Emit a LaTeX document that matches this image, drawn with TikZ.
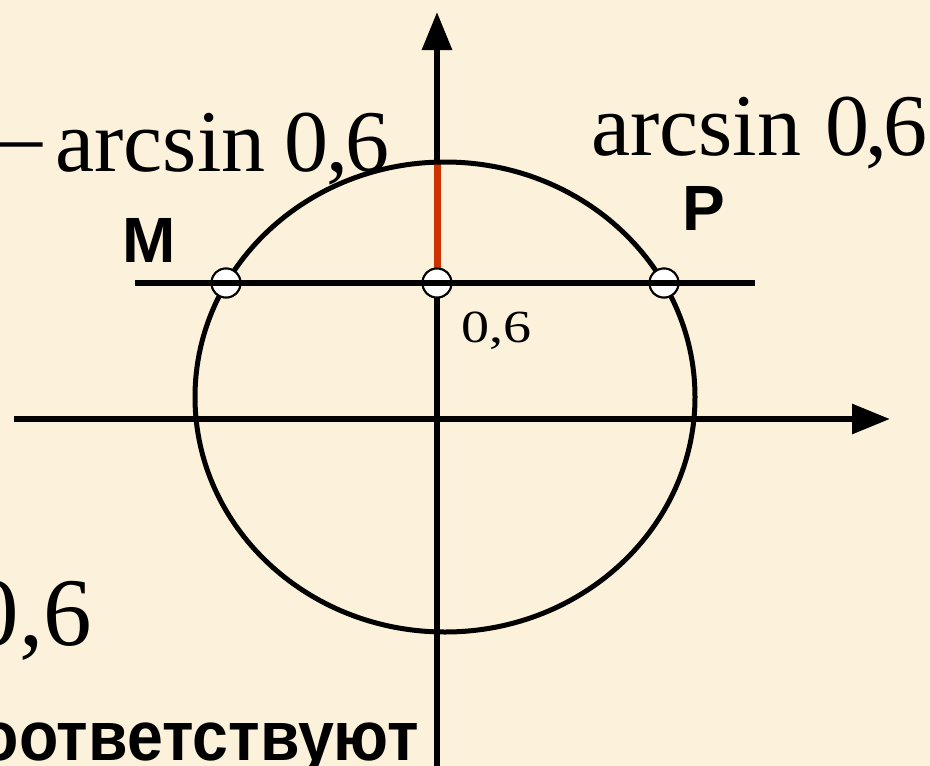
\documentclass[tikz,border=0pt]{standalone}
\usepackage{fontspec}
\setmainfont{Liberation Serif}
\setsansfont{Liberation Sans}
\usetikzlibrary{arrows.meta}
\definecolor{paper}{RGB}{252,241,218}
\definecolor{arcred}{RGB}{204,51,0}
\tikzset{
  axis/.style={line width=6pt, -{Triangle[length=38pt,width=29pt]}},
  wire/.style={line width=6pt},
  unit/.style={line width=5pt},
  redseg/.style={draw=arcred, line width=7pt},
  pt/.style={circle, draw, line width=2pt, fill=white, inner sep=0pt, minimum size=29pt},
  bigtext/.style={inner sep=0pt, font=\fontsize{88}{100}\selectfont},
  midtext/.style={inner sep=0pt, font=\fontsize{46}{50}\selectfont},
  ptlabel/.style={inner sep=0pt, font=\sffamily\bfseries\fontsize{64}{70}\selectfont},
  boldtext/.style={inner sep=0pt, font=\sffamily\bfseries\fontsize{70}{80}\selectfont}
}
\begin{document}
\begin{tikzpicture}[x=1pt,y=-1pt]
  \clip (0,0) rectangle (930,766);
  \fill[paper] (0,0) rectangle (930,766);
  % axes
  \coordinate (xl) at (14,419);
  \coordinate (xr) at (890,419);
  \coordinate (yb) at (437,770);
  \coordinate (yt) at (437,12);
  \draw[axis] (xl) -- (xr);
  \draw[axis] (yb) -- (yt);
  % points on the line y = 0,6
  \node[pt] (M) at (226,283) {};
  \node[pt] (O) at (437,283) {};
  \node[pt] (P) at (664,283) {};
  \coordinate (top) at (437,162);
  \draw[redseg] (O) -- (top);
  % circle
  \draw[unit] (445,397) ellipse [x radius=250pt, y radius=235pt];
  \node[pt] at (M) {};
  \node[pt] at (O) {};
  \node[pt] at (P) {};
  \coordinate (cl) at (135,283);
  \coordinate (cr) at (755,283);
  \draw[wire] (cl) -- (cr);
  % labels
  \node[bigtext, anchor=base west] (negarc) at (-2,171) {\raisebox{0.06em}{–}\hspace{0.15em}arcsin\hspace{0.22em}0\kern-0.03em,\kern-0.03em6};
  \node[bigtext, anchor=base west] (arc) at (591,155) {arcsin\hspace{0.28em}0\kern-0.05em,\kern-0.05em6};
  \node[bigtext, font=\fontsize{97}{110}\selectfont, anchor=base east] (val) at (92,645) {0,6};
  \node[midtext, anchor=base west] (lbl) at (461,342) {\scalebox{1.22}[1]{0,6}};
  \node[ptlabel, anchor=base west] (Mlbl) at (122,262) {M};
  \node[ptlabel, anchor=base west] (Plbl) at (682,230) {P};
  \node[boldtext, anchor=base east] (word) at (419,760) {\scalebox{0.92}[1]{соответствуют}};
\end{tikzpicture}
\end{document}
